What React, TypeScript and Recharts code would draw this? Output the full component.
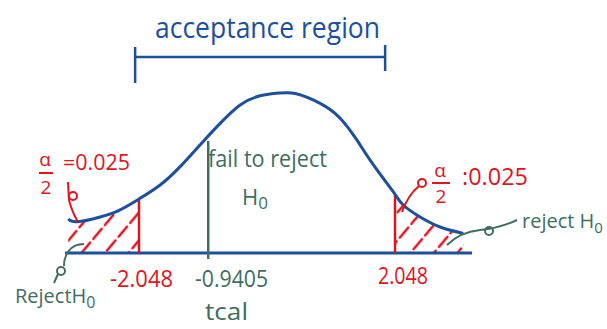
import React from "react";
import { ComposedChart, Line, Area, XAxis, YAxis, ReferenceLine } from "recharts";

// Curve (t value, density)
const tValues = [-3.18, -3.04, -2.67, -2.35, -2.048, -1.71, -1.39, -1.05, -0.75, -0.43, -0.11, 0.21, 0.47, 0.85, 1.17, 1.44, 1.65, 1.92, 2.048, 2.18, 2.45, 2.77, 3.14];
const density = [0.085, 0.078, 0.09, 0.108, 0.135, 0.17, 0.216, 0.274, 0.324, 0.37, 0.393, 0.4, 0.398, 0.374, 0.337, 0.282, 0.232, 0.174, 0.147, 0.12, 0.09, 0.065, 0.049];

const criticalValues = [-2.048, 2.048];
const criticalHeights = [0.135, 0.147];
const tCal = -0.9405;
const tCalHeight = 0.28;
const bracketEnds = [-2.11, 1.89];
const bracketLevel = 0.49;

const BLUE = "#1c4f9c";
const RED = "#e0141e";
const GREEN = "#3f6e60";

const data = tValues.map((t, i) => ({
  t,
  d: density[i],
  leftTail: t <= criticalValues[0] ? density[i] : null,
  rightTail: t >= criticalValues[1] ? density[i] : null,
}));

const FONT = "'Open Sans', sans-serif";

export default function App() {
  return (
    <div style={{ position: "relative", width: 607, height: 329, background: "#fff" }}>
      <style>{`body{margin:0;background:#fff}`}</style>
      <ComposedChart width={607} height={329} data={data} margin={{ top: 53, right: 135, bottom: 76, left: 65 }}>
        <defs>
          <pattern id="hatch" patternUnits="userSpaceOnUse" width="18" height="18" patternTransform="rotate(40)">
            <line x1="9" y1="2" x2="9" y2="15" stroke={RED} strokeWidth="2.5" strokeLinecap="round" />
          </pattern>
        </defs>
        <XAxis type="number" dataKey="t" domain={[-3.232, 3.28]} allowDataOverflow hide />
        <YAxis type="number" domain={[0, 0.5]} allowDataOverflow hide />
        <Area type="natural" dataKey="leftTail" stroke="none" fill="url(#hatch)" fillOpacity={1} isAnimationActive={false} connectNulls={false} />
        <Area type="natural" dataKey="rightTail" stroke="none" fill="url(#hatch)" fillOpacity={1} isAnimationActive={false} connectNulls={false} />
        <ReferenceLine y={0} stroke={BLUE} strokeWidth={3} />
        {criticalValues.map((c, i) => (
          <ReferenceLine key={c} segment={[{ x: c, y: 0 }, { x: c, y: criticalHeights[i] }]} stroke={RED} strokeWidth={2.5} />
        ))}
        <ReferenceLine segment={[{ x: tCal, y: -0.015 }, { x: tCal, y: tCalHeight }]} stroke={GREEN} strokeWidth={2.5} ifOverflow="visible" />
        <ReferenceLine segment={[{ x: bracketEnds[0], y: bracketLevel }, { x: bracketEnds[1], y: bracketLevel }]} stroke={BLUE} strokeWidth={2.5} ifOverflow="visible" />
        <ReferenceLine segment={[{ x: bracketEnds[0], y: bracketLevel + 0.025 }, { x: bracketEnds[0], y: bracketLevel - 0.065 }]} stroke={BLUE} strokeWidth={2.5} ifOverflow="visible" />
        <ReferenceLine segment={[{ x: bracketEnds[1], y: bracketLevel + 0.03 }, { x: bracketEnds[1], y: bracketLevel - 0.035 }]} stroke={BLUE} strokeWidth={2.5} ifOverflow="visible" />
        <Line type="natural" dataKey="d" stroke={BLUE} strokeWidth={3} dot={false} isAnimationActive={false} />
      </ComposedChart>
      <svg width={607} height={329} style={{ position: "absolute", left: 0, top: 0, pointerEvents: "none" }} fontFamily={FONT}>
        {/* title */}
        <text x={155} y={38} fontSize={30} fill={BLUE} textLength={225} lengthAdjust="spacingAndGlyphs">acceptance region</text>

        {/* left alpha/2 */}
        <text x={45} y={166} fontSize={19} fill={RED} textAnchor="middle">α</text>
        <line x1={39} y1={173} x2={53} y2={173} stroke={RED} strokeWidth={2} />
        <text x={46} y={194} fontSize={19} fill={RED} textAnchor="middle">2</text>
        <text x={63} y={170} fontSize={22} fill={RED} textLength={67} lengthAdjust="spacingAndGlyphs">=0.025</text>
        <path d="M 68 182 L 69 200 Q 72 212 78 222" stroke={RED} strokeWidth={2} fill="none" />
        <circle cx={73} cy={196} r={4} stroke={RED} strokeWidth={2} fill="none" />

        {/* right alpha/2 */}
        <text x={440} y={177} fontSize={19} fill={RED} textAnchor="middle">α</text>
        <line x1={432} y1={183} x2={450} y2={183} stroke={RED} strokeWidth={2} />
        <text x={441} y={203} fontSize={19} fill={RED} textAnchor="middle">2</text>
        <text x={462} y={185} fontSize={24} fill={RED} textLength={66} lengthAdjust="spacingAndGlyphs">:0.025</text>
        <path d="M 402 212 Q 408 195 419 186" stroke={RED} strokeWidth={2} fill="none" />
        <circle cx={422} cy={183} r={4} stroke={RED} strokeWidth={2} fill="none" />

        {/* fail to reject */}
        <text x={208} y={167} fontSize={23} fill={GREEN} textLength={119} lengthAdjust="spacingAndGlyphs">fail to reject</text>
        <text x={242} y={205} fontSize={22} fill={GREEN}>H<tspan fontSize={17} dy={4}>0</tspan></text>

        {/* axis labels */}
        <text x={110} y={287} fontSize={24} fill={RED} textLength={63} lengthAdjust="spacingAndGlyphs">-2.048</text>
        <text x={378} y={284} fontSize={24} fill={RED} textLength={50} lengthAdjust="spacingAndGlyphs">2.048</text>
        <text x={195} y={287} fontSize={24} fill={GREEN} textLength={73} lengthAdjust="spacingAndGlyphs">-0.9405</text>
        <text x={205} y={320} fontSize={24} fill={GREEN} textLength={43} lengthAdjust="spacingAndGlyphs">tcal</text>

        {/* reject H0 left */}
        <text x={15} y={303} fontSize={20} fill={GREEN}>RejectH<tspan fontSize={16} dy={5}>0</tspan></text>
        <path d="M 84 244 C 70 244 64 255 64 266" stroke={GREEN} strokeWidth={2} fill="none" />
        <circle cx={61} cy={271} r={4} stroke={GREEN} strokeWidth={2} fill="none" />
        <path d="M 58 274 L 54 283" stroke={GREEN} strokeWidth={2} fill="none" />

        {/* reject H0 right */}
        <text x={522} y={228} fontSize={20} fill={GREEN}>reject H<tspan fontSize={15} dy={5}>0</tspan></text>
        <path d="M 447 245 Q 460 232 480 230 Q 500 228 517 220" stroke={GREEN} strokeWidth={2} fill="none" />
        <circle cx={489} cy={231} r={4} stroke={GREEN} strokeWidth={2} fill="none" />
      </svg>
    </div>
  );
}
